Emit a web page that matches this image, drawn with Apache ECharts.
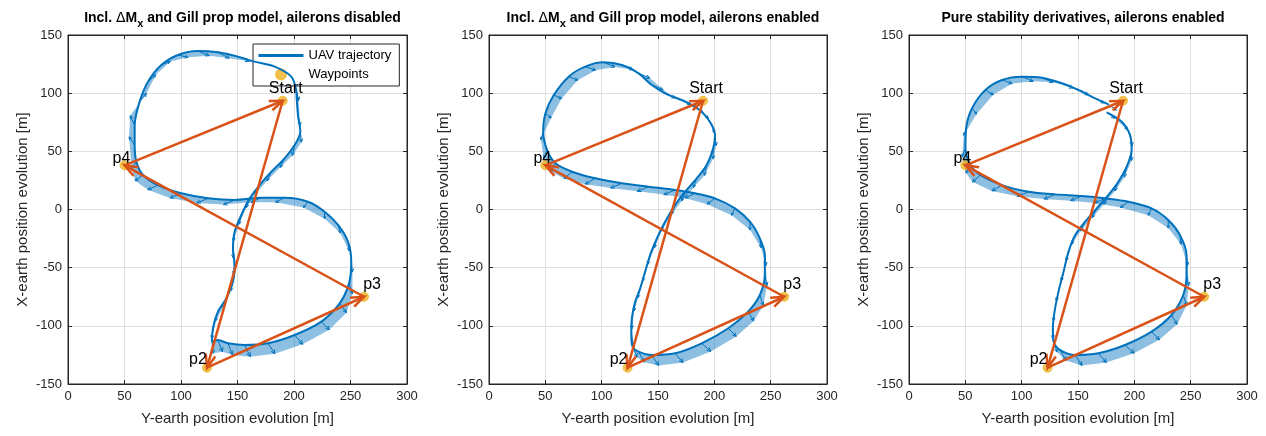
<!DOCTYPE html>
<html><head><meta charset="utf-8">
<script src="https://cdn.jsdelivr.net/npm/echarts@6/dist/echarts.min.js"></script>
<style>html,body{margin:0;padding:0;background:#fff}#c{width:1266px;height:436px}</style>
</head><body><div id="c"></div>
<script>
// ---------- data ----------
const titleMain = ['Incl. ', 'Incl. ', 'Pure stability derivatives, ailerons enabled'];
const titleTail = [' and Gill prop model, ailerons disabled', ' and Gill prop model, ailerons enabled', ''];
const xAxisName = 'Y-earth position evolution [m]';
const yAxisName = 'X-earth position evolution [m]';

const waypointNames = ['Start', 'p2', 'p3', 'p4'];
const waypointX = [190, 123, 262, 50];
const waypointY = [93.5, -136, -75, 38];
const routeOrder = [0, 1, 2, 3, 0];

// trajectory points [Y-earth, X-earth]
const traj1 = [[202,102.7],[203.5,81.2],[205.6,66.9],[200.6,55.4],[191.7,44],[180,32.5],[169.6,21],[160.8,9.6],[153.4,-4.7],[147.5,-19.1],[146,-33.4],[147.5,-47.7],[146,-62],[140.1,-76.4],[132.7,-87.8],[128.3,-102.1],[127.4,-113.6],[132.7,-112.2],[141.6,-115],[156.3,-116.5],[177,-115],[200.6,-107.9],[224.2,-96.4],[240.4,-80.7],[248.7,-63.5],[250.7,-44.8],[247.8,-27.7],[239,-13.3],[227.1,-1.9],[212.4,6.7],[191.7,10.2],[171.1,10.2],[147.5,8.2],[123.9,9.6],[100.3,13.9],[79.6,21],[66.4,29.7],[60.5,41.1],[59,55.4],[59,72.6],[63.4,92.7],[70.8,109.9],[82.6,124.2],[97.3,132.8],[115,136.2],[132.7,135.1],[150.4,131.4],[165.2,127.1],[182.9,122.8],[197.6,114.2],[202,102.7]];
const quiv1 = [[2,-9],[2,-9],[1,-9],[-2,-9],[-4,-8],[-4,-8],[-4,-8],[-3,-8],[-2,-8],[-1,-8],[0,-8],[-1,-8],[-2,-8],[-3,-8],[-2,-8],[-1,-9],[1,-10],[4,-10],[4,-10],[5,-10],[6,-9],[7,-8],[7,-7],[6,-8],[3,-9],[1,-9],[1,-8],[2,-7],[0,-6],[-4,-5],[-8,-4],[-9,-4],[-10,-4],[-10,-4],[-10,-4],[-9,-4],[-7,-5],[-4,-6],[-5,7],[-4,8],[6,7],[7,6],[8,3],[9,-2],[10,-4],[10,-5],[10,-4],[9,-4],[8,-5],[4,-8],[2,-9]];

const traj2 = [[177,91.3],[188.8,84.1],[197,74],[200.6,64],[199,52.6],[193.2,38.3],[184.4,26.8],[174,15.3],[165.2,3.9],[156.3,-10.5],[149,-24.8],[143,-39.1],[138.6,-53.4],[134.2,-67.8],[129.8,-79.2],[126.8,-93.6],[126.3,-107.9],[127.4,-117.9],[132.7,-122.2],[144.5,-125.1],[165.2,-123.6],[188.8,-115],[212.4,-102.1],[230,-87.8],[240.4,-73.5],[244.8,-56.3],[244.8,-39.1],[240.4,-24.8],[231.6,-10.5],[218.3,1],[200.6,9.6],[182.9,13.9],[165.2,16.8],[141.6,19.6],[118,22.5],[94.4,26.8],[73.7,32.5],[59,39.7],[51.6,51.1],[48.1,66.9],[50.1,82.7],[57.5,98.4],[70.8,114.2],[85.5,122.8],[101.8,126.5],[118,124.2],[132.7,117],[144.5,107],[156.3,99.9],[171,94.1],[182.9,88.4]];
const quiv2 = [[8,-4],[6,-6],[3,-8],[1,-9],[0,-9],[-2,-9],[-3,-8],[-3,-8],[-3,-8],[-3,-8],[-2,-8],[-2,-8],[-2,-8],[-2,-8],[-1,-8],[0,-9],[2,-9],[4,-9],[5,-9],[6,-9],[7,-8],[8,-7],[7,-7],[5,-8],[3,-9],[2,-9],[1,-9],[1,-8],[0,-7],[-3,-6],[-7,-5],[-9,-4],[-10,-4],[-10,-4],[-10,-4],[-9,-5],[-7,-6],[-4,-7],[-3,-7],[-2,-7],[5,-4],[7,-3],[8,-3],[9,-3],[10,-4],[10,-4],[10,-4],[10,-4],[9,-4],[8,-4],[7,-5]];

const traj3 = [[175.5,83.5],[188.8,75.5],[196.2,64],[197.6,51.1],[193.2,36.8],[185.8,23.9],[177,12.5],[166.7,1],[156.3,-10.5],[147.5,-21.9],[141.6,-36.2],[137.2,-53.4],[132.7,-70.6],[129.2,-87.8],[127.7,-102.1],[128.3,-113.6],[134.2,-120.8],[147.5,-125.1],[168.1,-123.6],[191.7,-116.5],[215.3,-105],[233,-90.7],[243.4,-73.5],[246.3,-56.3],[246.3,-39.1],[240.4,-21.9],[230.1,-9],[215.3,1],[194.7,6.7],[174,9.6],[153.4,11.6],[129.8,13],[106.2,15.3],[82.6,21],[63.4,29.7],[54.6,38.3],[50.1,52.6],[50.7,69.8],[56,87],[67.8,102.7],[82.6,111.3],[100.3,114.2],[118,113.3],[135.7,108.5],[150.4,102.7],[165.2,95.6],[177,90.4]];
const quiv3 = [[7,-5],[5,-7],[2,-9],[0,-9],[-2,-9],[-3,-8],[-4,-8],[-4,-8],[-4,-8],[-3,-8],[-2,-8],[-2,-8],[-2,-8],[-1,-8],[0,-9],[3,-9],[5,-9],[6,-9],[7,-8],[8,-7],[7,-7],[5,-8],[3,-9],[2,-9],[1,-9],[1,-8],[0,-7],[-3,-6],[-7,-5],[-9,-4],[-10,-4],[-10,-4],[-10,-4],[-9,-5],[-7,-6],[-4,-7],[-3,-7],[-2,-6],[4,-5],[7,-4],[9,-3],[10,-4],[10,-4],[10,-4],[9,-4],[8,-4],[7,-5]];

const trajs = [traj1, traj2, traj3];
const quivs = [quiv1, quiv2, quiv3];

// ---------- styles ----------
const FONT = 'Liberation Sans, Arial, Helvetica, sans-serif';
const BLUE = '#0072BD', ORANGE = '#D95319', YELLOW = '#EDB120', AX = '#262626';
const grids = [
  {left: 68, top: 35, width: 339, height: 349},
  {left: 489, top: 35, width: 338, height: 349},
  {left: 909, top: 35, width: 338, height: 349}
];
const labelOffsets = {Start: [3, -12], p2: [-9, -8], p3: [8, -12], p4: [-3, -7]};

function arrowGroup(p, q, color, lw, head, ang) {
  const a = Math.atan2(q[1] - p[1], q[0] - p[0]);
  const h1 = [q[0] - head * Math.cos(a - ang), q[1] - head * Math.sin(a - ang)];
  const h2 = [q[0] - head * Math.cos(a + ang), q[1] - head * Math.sin(a + ang)];
  return {type: 'group', children: [
    {type: 'line', shape: {x1: p[0], y1: p[1], x2: q[0], y2: q[1]}, style: {stroke: color, lineWidth: lw}},
    {type: 'polyline', shape: {points: [h1, q, h2]}, style: {stroke: color, lineWidth: lw, fill: null}}
  ]};
}

const xAxes = [], yAxes = [], series = [], titles = [];
grids.forEach((g, i) => {
  const cx = g.left + g.width / 2;
  const text = i < 2
    ? '{b|' + titleMain[i] + '}{d|Δ}{b|M}{s|x}{b|' + titleTail[i] + '}'
    : '{b|' + titleMain[i] + '}';
  titles.push({
    text: text, left: cx, top: 6, textAlign: 'center',
    textStyle: {
      fontFamily: FONT, color: '#000',
      rich: {
        b: {fontSize: 14, fontWeight: 'bold', fontFamily: FONT, color: '#000', lineHeight: 16, verticalAlign: 'top'},
        d: {fontSize: 14, fontWeight: 'normal', fontFamily: 'DejaVu Sans, sans-serif', color: '#000', lineHeight: 16, verticalAlign: 'top'},
        s: {fontSize: 11, fontWeight: 'bold', fontFamily: FONT, color: '#000', lineHeight: 16, verticalAlign: 'top', padding: [7, 0, 0, 0]}
      }
    }
  });
  xAxes.push({
    gridIndex: i, type: 'value', min: 0, max: 300, interval: 50, position: 'bottom',
    name: xAxisName, nameLocation: 'middle', nameGap: 27,
    nameTextStyle: {fontFamily: FONT, fontSize: 15, color: AX},
    axisLine: {onZero: false, lineStyle: {color: AX, width: 1}},
    axisTick: {inside: true, length: 4, lineStyle: {color: AX}},
    axisLabel: {fontFamily: FONT, fontSize: 13, color: AX, margin: 6},
    splitLine: {show: true, lineStyle: {color: '#dedede', width: 1}}
  });
  yAxes.push({
    gridIndex: i, type: 'value', min: -150, max: 150, interval: 50, position: 'left',
    name: yAxisName, nameLocation: 'middle', nameGap: 38, nameRotate: 90,
    nameTextStyle: {fontFamily: FONT, fontSize: 15, color: AX},
    axisLine: {onZero: false, lineStyle: {color: AX, width: 1}},
    axisTick: {inside: true, length: 4, lineStyle: {color: AX}},
    axisLabel: {fontFamily: FONT, fontSize: 13, color: AX, margin: 6},
    splitLine: {show: true, lineStyle: {color: '#dedede', width: 1}}
  });
});
grids.forEach((g, i) => {
  xAxes.push({
    gridIndex: i, type: 'value', min: 0, max: 300, interval: 50, position: 'top',
    axisLine: {onZero: false, lineStyle: {color: AX}}, axisTick: {inside: true, length: 4, lineStyle: {color: AX}},
    axisLabel: {show: false}, splitLine: {show: false}
  });
  yAxes.push({
    gridIndex: i, type: 'value', min: -150, max: 150, interval: 50, position: 'right',
    axisLine: {onZero: false, lineStyle: {color: AX}}, axisTick: {inside: true, length: 4, lineStyle: {color: AX}},
    axisLabel: {show: false}, splitLine: {show: false}
  });
});

grids.forEach((g, i) => {
  const tr = trajs[i], qv = quivs[i];
  // shaded band between trajectory and quiver tips (dense hatching look)
  const bandData = [];
  for (let k = 0; k < tr.length - 1; k++) {
    bandData.push([tr[k][0], tr[k][1], tr[k + 1][0], tr[k + 1][1], qv[k][0], qv[k][1], qv[k + 1][0], qv[k + 1][1]]);
  }
  series.push({
    type: 'custom', xAxisIndex: i, yAxisIndex: i, z: 2, silent: true,
    encode: {x: [0, 2], y: [1, 3]},
    data: bandData,
    renderItem: (params, api) => {
      const v = [0,1,2,3,4,5,6,7].map(j => api.value(j));
      const pts = [api.coord([v[0], v[1]]), api.coord([v[2], v[3]]),
                   api.coord([v[2] + v[6], v[3] + v[7]]), api.coord([v[0] + v[4], v[1] + v[5]])];
      return {type: 'polygon', shape: {points: pts}, style: {fill: 'rgba(0,114,189,0.45)', stroke: null}};
    }
  });
  // quiver arrows
  series.push({
    type: 'custom', xAxisIndex: i, yAxisIndex: i, z: 3, silent: true,
    encode: {x: 0, y: 1},
    data: tr.map((p, k) => [p[0], p[1], qv[k][0], qv[k][1]]),
    renderItem: (params, api) => {
      const x = api.value(0), y = api.value(1), u = api.value(2), w = api.value(3);
      const p = api.coord([x, y]), q = api.coord([x + u, y + w]);
      const L = Math.hypot(q[0] - p[0], q[1] - p[1]);
      return arrowGroup(p, q, BLUE, 1, L * 0.35, 0.45);
    }
  });
  // trajectory line
  series.push({
    type: 'line', name: 'UAV trajectory', xAxisIndex: i, yAxisIndex: i, z: 4,
    data: tr, symbol: 'none', showSymbol: false, smooth: 0.3,
    lineStyle: {color: BLUE, width: 2}, itemStyle: {color: BLUE}
  });
  // waypoints
  series.push({
    type: 'scatter', name: 'Waypoints', xAxisIndex: i, yAxisIndex: i, z: 5,
    symbolSize: 9, itemStyle: {color: YELLOW, borderColor: '#F0B830', borderWidth: 1},
    data: waypointNames.map((n, k) => ({name: n, value: [waypointX[k], waypointY[k]]}))
  });
  // route arrows
  const route = [];
  for (let k = 0; k < routeOrder.length - 1; k++) {
    const a = routeOrder[k], b = routeOrder[k + 1];
    route.push([waypointX[a], waypointY[a], waypointX[b], waypointY[b]]);
  }
  series.push({
    type: 'custom', xAxisIndex: i, yAxisIndex: i, z: 6, silent: true,
    encode: {x: [0, 2], y: [1, 3]},
    data: route,
    renderItem: (params, api) => {
      const p = api.coord([api.value(0), api.value(1)]), q = api.coord([api.value(2), api.value(3)]);
      return arrowGroup(p, q, ORANGE, 2.5, 14, 0.36);
    }
  });
  // waypoint text labels
  series.push({
    type: 'custom', xAxisIndex: i, yAxisIndex: i, z: 8, silent: true,
    encode: {x: 0, y: 1},
    data: waypointNames.map((n, k) => [waypointX[k], waypointY[k], k]),
    renderItem: (params, api) => {
      const n = waypointNames[api.value(2)];
      const p = api.coord([api.value(0), api.value(1)]);
      const o = labelOffsets[n];
      return {type: 'text', z2: 100, style: {text: n, x: p[0] + o[0], y: p[1] + o[1],
        align: 'center', verticalAlign: 'middle', fill: '#000', font: '16px ' + FONT}};
    }
  });
});

const chart = echarts.init(document.getElementById('c'), null, {renderer: 'canvas'});
chart.setOption({
  animation: false,
  backgroundColor: '#fff',
  title: titles,
  grid: grids.map(g => Object.assign({show: true, borderColor: AX, borderWidth: 1, backgroundColor: '#fff'}, g)),
  xAxis: xAxes,
  yAxis: yAxes,
  legend: {
    data: [{name: 'UAV trajectory', itemStyle: {opacity: 0}, lineStyle: {width: 3, color: BLUE}},
           {name: 'Waypoints', icon: 'circle', itemStyle: {color: YELLOW}}],
    orient: 'vertical', left: 253, top: 44, itemGap: 6, itemWidth: 45, itemHeight: 10,
    padding: [5, 8, 5, 4], backgroundColor: '#fff', borderColor: AX, borderWidth: 1, borderRadius: 0,
    textStyle: {fontFamily: FONT, fontSize: 13, color: '#000'}, selectedMode: false
  },
  series: series
});
</script>
</body></html>
